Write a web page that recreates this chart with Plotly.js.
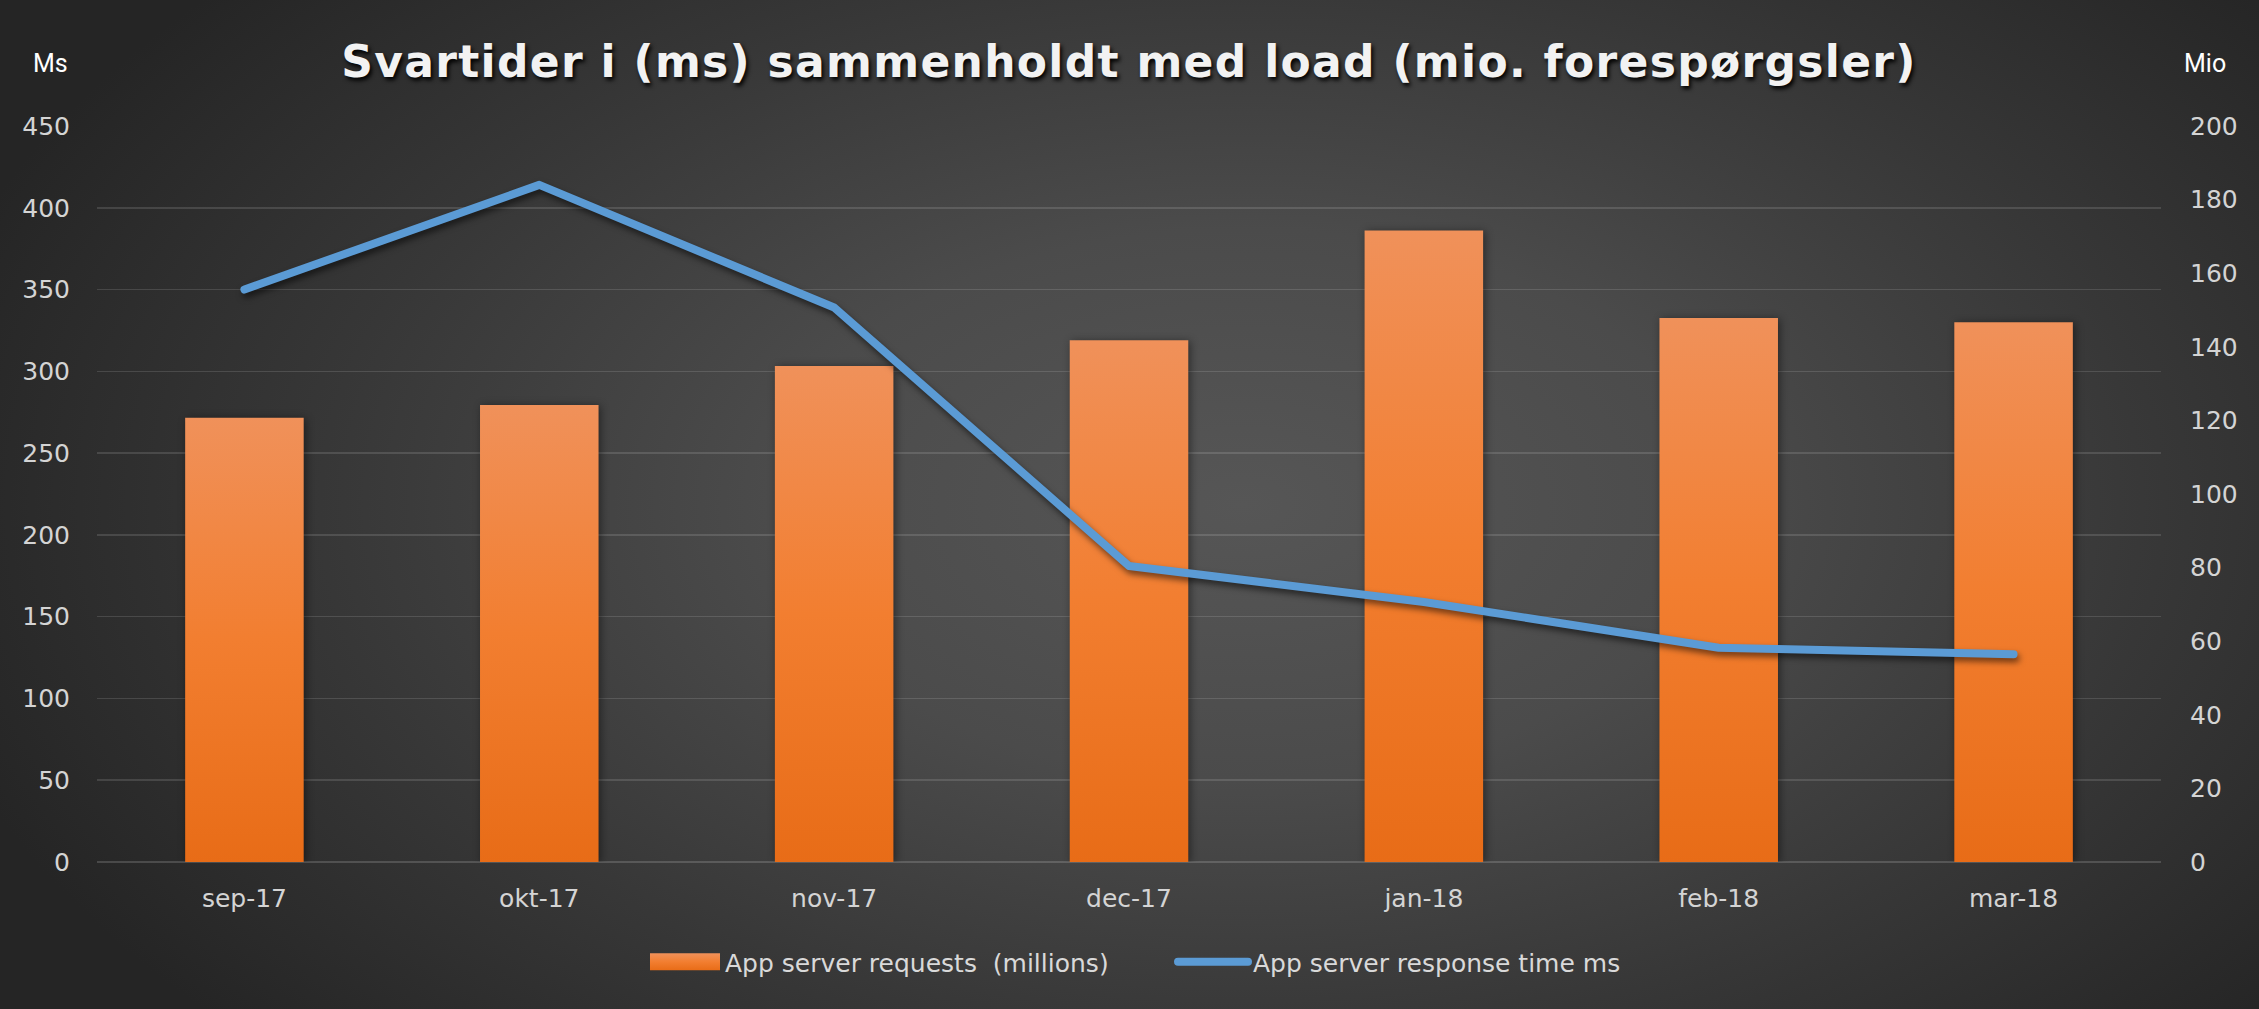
<!DOCTYPE html>
<html><head><meta charset="utf-8">
<script src="https://cdn.plot.ly/plotly-3.0.1.min.js"></script>
<style>
html,body{margin:0;padding:0;width:2259px;height:1009px;overflow:hidden;
background: radial-gradient(ellipse 60% 78% at 55% 50%, #565656 0%, #4b4b4b 35%, #373737 68%, #252525 100%);}
#chart{width:2259px;height:1009px;}
</style></head><body><div id="chart"></div>
<script>
const months = ['sep-17','okt-17','nov-17','dec-17','jan-18','feb-18','mar-18'];
const requestsMio = [120.7, 124.2, 134.8, 141.8, 171.6, 147.8, 146.7];
const responseMs = [350, 414, 339, 181, 159, 131, 127];
const titleText = 'Svartider i (ms) sammenholdt med load (mio. forespørgsler)';
const barName = 'App server requests \u00a0(millions)';
const lineName = 'App server response time ms';

const tickFont = {family: '"DejaVu Sans", sans-serif', size: 25, color: '#d4d4d4'};
const unitFont = {family: '"Liberation Sans Narrow", "Roboto", sans-serif', size: 25, color: '#ffffff'};

const data = [
  {type: 'bar', x: months, y: requestsMio, name: barName, yaxis: 'y',
   marker: {color: '#F07E32', line: {width: 0}}},
  {type: 'scatter', mode: 'lines', x: months, y: responseMs, name: lineName, yaxis: 'y2',
   line: {color: '#5B9BD5', width: 8}}
];

const layout = {
  width: 2259, height: 1009,
  paper_bgcolor: 'rgba(0,0,0,0)', plot_bgcolor: 'rgba(0,0,0,0)',
  margin: {l: 97, r: 98, t: 126, b: 147, pad: 0},
  bargap: 0.598,
  showlegend: true,
  title: {text: titleText, x: 0.5, xref: 'paper', xanchor: 'center', y: 1 - 62/1009, yref: 'container', yanchor: 'middle',
          font: {family: '"DejaVu Sans", sans-serif', size: 44, weight: 'bold', color: '#f2f2f2', shadow: '2px 3px 4px #000'}},
  xaxis: {type: 'category', tickfont: tickFont, showgrid: false, showline: false, zeroline: false, ticks: '', ticklabelstandoff: 19},
  yaxis: {side: 'right', range: [0, 200], dtick: 20, showgrid: false, zeroline: false, showline: false, ticks: '',
          tickfont: tickFont, ticklabelstandoff: 28},
  yaxis2: {overlaying: 'y', side: 'left', range: [0, 450], dtick: 50, showgrid: true, gridcolor: 'rgba(255,255,255,0.13)', gridwidth: 1.5,
           zeroline: true, zerolinecolor: 'rgba(255,255,255,0.16)', zerolinewidth: 1.5, showline: false, ticks: '',
           tickfont: tickFont, ticklabelstandoff: 26},
  legend: {orientation: 'h', x: (645-97)/2064, xanchor: 'left', y: -0.136, yanchor: 'middle',
           font: {family: '"DejaVu Sans", sans-serif', size: 25, color: '#d9d9d9'},
           itemwidth: 70, bgcolor: 'rgba(0,0,0,0)', traceorder: 'normal', entrywidth: 443},
  annotations: [
    {text: 'Ms', xref: 'paper', yref: 'paper', x: (50-97)/2064, y: (862.5-63)/737, showarrow: false, xanchor: 'center', yanchor: 'middle',
     font: unitFont},
    {text: 'Mio', xref: 'paper', yref: 'paper', x: 1 + (2205-2161)/2064, y: (862.5-63)/737, showarrow: false, xanchor: 'center', yanchor: 'middle',
     font: unitFont}
  ]
};

Plotly.newPlot('chart', data, layout, {staticPlot: true, displayModeBar: false}).then(gd => {
  const ns = 'http://www.w3.org/2000/svg';
  const svg = gd.querySelector('.main-svg');
  let defs = svg.querySelector('defs');
  if (!defs) { defs = document.createElementNS(ns, 'defs'); svg.insertBefore(defs, svg.firstChild); }
  const lg = document.createElementNS(ns, 'linearGradient');
  lg.setAttribute('id', 'barGrad'); lg.setAttribute('x1', '0'); lg.setAttribute('y1', '0'); lg.setAttribute('x2', '0'); lg.setAttribute('y2', '1');
  [['0', '#F0915A'], ['0.5', '#F27E30'], ['1', '#E86C17']].forEach(([o, c]) => {
    const s = document.createElementNS(ns, 'stop'); s.setAttribute('offset', o); s.setAttribute('stop-color', c); lg.appendChild(s);
  });
  defs.appendChild(lg);
  gd.querySelectorAll('.barlayer .point path').forEach(p => { p.style.fill = 'url(#barGrad)'; p.style.filter = 'drop-shadow(2px 1px 4px rgba(0,0,0,0.45))'; });
  gd.querySelectorAll('.scatterlayer .js-line').forEach(p => {
    p.style.filter = 'drop-shadow(2px 4px 3px rgba(0,0,0,0.55))';
    p.style.strokeLinecap = 'round'; p.style.strokeLinejoin = 'round';
  });
  const t = gd.querySelector('.gtitle');
  if (t) t.style.letterSpacing = '1.3px';
  try {
    const items = gd.querySelectorAll('.legend .traces');
    const barPath = items[0].querySelector('.legendpoints path');
    const linePath = items[1].querySelector('.legendlines path');
    const bb = linePath.getBBox();
    barPath.removeAttribute('transform');
    barPath.setAttribute('d', `M${bb.x},-8.5H${bb.x + bb.width}V8.5H${bb.x}Z`);
    barPath.style.fill = 'url(#barGrad)';
    linePath.style.strokeLinecap = 'round';
  } catch (e) {}
});
</script>
</body></html>
